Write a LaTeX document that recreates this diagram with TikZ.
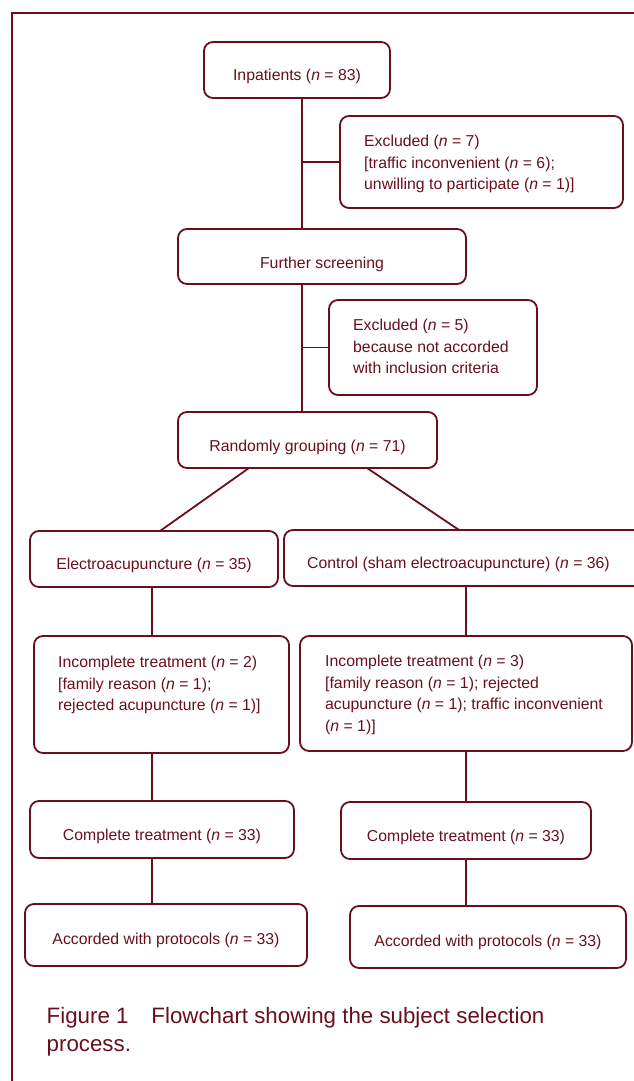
\documentclass[tikz,border=0pt]{standalone}
\usepackage{fontspec}
\setmainfont{Liberation Sans}
\usetikzlibrary{calc}
\definecolor{mar}{RGB}{105,15,28}
\tikzset{
  bx/.style={draw=mar, line width=1.8pt, rounded corners=9pt, inner sep=0pt, outer sep=0pt},
  lbl/.style={text=mar, font=\fontsize{15.8}{21.5}\selectfont, inner sep=0pt},
  one/.style={lbl, anchor=base},
  ml/.style={lbl, align=left, anchor=north west},
  cn/.style={draw=mar, line width=1.8pt},
  figcaption/.style={text=mar, font=\fontsize{22.3}{27.5}\selectfont, inner sep=0pt, align=left, anchor=north west}
}
\newcommand\mybox[5]{\node[bx, minimum width={#4-#2}, minimum height={#5-#3}] (#1) at ({(#2+#4)/2},{(#3+#5)/2}) {};}
\newcommand\st{\rule{0pt}{13pt}}
\begin{document}
\begin{tikzpicture}[x=1pt,y=-1pt]
\useasboundingbox (0,0) rectangle (634,1081);
% frame
\draw[cn] (634,13) -- (12,13) -- (12,1081);
% boxes
\mybox{inp}{204}{42}{390}{98}
\mybox{exa}{340}{116}{623}{208}
\mybox{fs}{178}{229}{466}{284}
\mybox{exb}{329}{300}{537}{395}
\mybox{rg}{178}{412}{437}{468}
\mybox{ea}{30}{531}{278}{587}
\mybox{ctl}{284}{530}{646}{586}
\mybox{ica}{34}{636}{289}{753}
\mybox{icb}{300}{636}{632}{751}
\mybox{cta}{30}{801}{294}{858}
\mybox{ctb}{341}{802}{591}{859}
\mybox{aca}{25}{904}{307}{966}
\mybox{acb}{350}{906}{626}{968}
% texts
\node[one] (inpT) at (297,81) {Inpatients (\textit{n} = 83)};
\node[ml] (exaT) at (364,146.7-13) {\st Excluded (\textit{n} = 7)\\\relax [traffic inconvenient (\textit{n} = 6);\\unwilling to participate (\textit{n} = 1)]};
\node[one] (fsT) at (322,268) {Further screening};
\node[ml] (exbT) at (353,330.5-13) {\st Excluded (\textit{n} = 5)\\because not accorded\\with inclusion criteria};
\node[one] (rgT) at (307.5,451.7) {Randomly grouping (\textit{n} = 71)};
\node[one] (eaT) at (154,569) {Electroacupuncture (\textit{n} = 35)};
\node[one] (ctlT) at (458.5,568) {Control (sham electroacupuncture) (\textit{n} = 36)};
\node[ml] (icaT) at (58,667.7-13) {\st Incomplete treatment (\textit{n} = 2)\\\relax [family reason (\textit{n} = 1);\\rejected acupuncture (\textit{n} = 1)]};
\node[ml] (icbT) at (325,666.7-13) {\st Incomplete treatment (\textit{n} = 3)\\\relax [family reason (\textit{n} = 1); rejected\\acupuncture (\textit{n} = 1); traffic inconvenient\\(\textit{n} = 1)]};
\node[one] (ctaT) at (162,840) {Complete treatment (\textit{n} = 33)};
\node[one] (ctbT) at (466,841) {Complete treatment (\textit{n} = 33)};
\node[one] (acaT) at (166,944) {Accorded with protocols (\textit{n} = 33)};
\node[one] (acbT) at (488,946) {Accorded with protocols (\textit{n} = 33)};
\node[figcaption] (capT) at (46.5,1023.3-18) {\rule{0pt}{18pt}Figure 1\hspace{23pt}Flowchart showing the subject selection\\process.};
% connectors
\coordinate (tr) at (302,0);
\coordinate (lc) at (152,0);
\coordinate (rc) at (466,0);
\draw[cn] (inp.south -| tr) -- (fs.north -| tr);
\draw[cn] (exa.west) -- (exa.west -| tr);
\draw[cn] (fs.south -| tr) -- (rg.north -| tr);
\draw[cn] (exb.west) -- (exb.west -| tr);
\draw[cn] ($(rg.south)+(-58.5,0)$) -- ($(ea.north)+(6,0)$);
\draw[cn] ($(rg.south)+(59.5,0)$) -- ($(ctl.north)+(-6,0)$);
\draw[cn] (ea.south -| lc) -- (ica.north -| lc);
\draw[cn] (ctl.south -| rc) -- (icb.north -| rc);
\draw[cn] (ica.south -| lc) -- (cta.north -| lc);
\draw[cn] (icb.south -| rc) -- (ctb.north -| rc);
\draw[cn] (cta.south -| lc) -- (aca.north -| lc);
\draw[cn] (ctb.south -| rc) -- (acb.north -| rc);
\end{tikzpicture}
\end{document}
